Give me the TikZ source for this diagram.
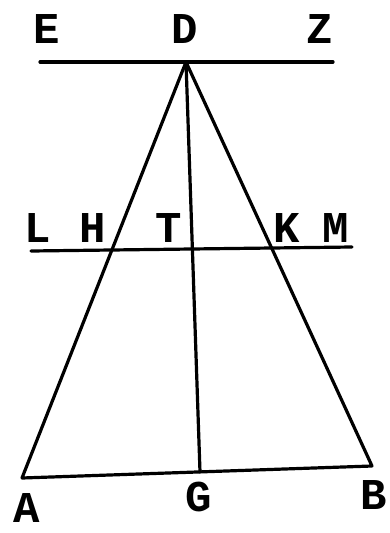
\documentclass[tikz,border=0pt]{standalone}
\usepackage{fontspec}
\newfontfamily\lblfont{Liberation Mono}
\tikzset{
  geo/.style={line width=3.2pt, line cap=round, line join=round},
  lbl/.style={font=\lblfont\bfseries\fontsize{44}{44}\selectfont, inner sep=0pt, anchor=center},
}
\begin{document}
\begin{tikzpicture}[x=1pt,y=-1pt]
\useasboundingbox (0,0) rectangle (390,533);
% points
\coordinate (D) at (186,62);
\coordinate (Ee) at (40,62);
\coordinate (Zz) at (333,62);
\coordinate (A) at (22,478);
\coordinate (B) at (372,466);
\coordinate (G) at (200,472);
\coordinate (Ll) at (31,251);
\coordinate (Mm) at (352,247);
% lines
\draw[geo] (Ee) -- (Zz);
\draw[geo] (Ll) -- (Mm);
\draw[geo] (A) -- (D) -- (B) -- (A);
\draw[geo] (D) -- (G);
% labels
\node[lbl] (lE) at (47,29) {E};
\node[lbl] (lD) at (185,29) {D};
\node[lbl] (lZ) at (320,29) {Z};
\node[lbl] (lL) at (38,228) {L};
\node[lbl] (lH) at (93,228) {H};
\node[lbl] (lT) at (169,228) {T};
\node[lbl] (lK) at (287,228) {K};
\node[lbl] (lM) at (336,228) {M};
\node[lbl] (lA) at (27,508) {A};
\node[lbl] (lG) at (199,497) {G};
\node[lbl] (lB) at (374,495) {B};
\end{tikzpicture}
\end{document}
